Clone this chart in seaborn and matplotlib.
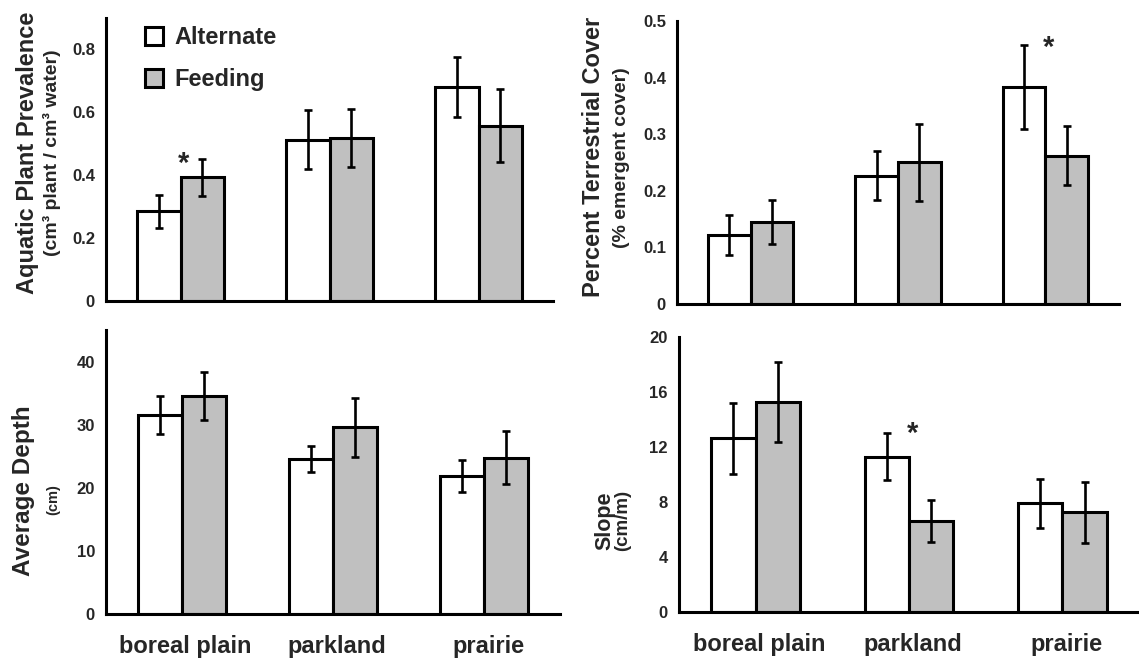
import numpy as np
import pandas as pd
import seaborn as sns
import matplotlib.pyplot as plt
import matplotlib.transforms as mtransforms
from matplotlib.ticker import FixedLocator

sns.set_style("white")
plt.rcParams['font.family'] = ['Liberation Sans', 'DejaVu Sans']
plt.rcParams['font.weight'] = 'bold'

sites = ["boreal plain", "parkland", "prairie"]
groups = ["Alternate", "Feeding"]

plant_alt = [0.285, 0.513, 0.681]
plant_alt_se = [0.052, 0.094, 0.095]
plant_feed = [0.393, 0.519, 0.558]
plant_feed_se = [0.060, 0.093, 0.117]

cover_alt = [0.122, 0.227, 0.384]
cover_alt_se = [0.036, 0.044, 0.074]
cover_feed = [0.145, 0.250, 0.262]
cover_feed_se = [0.039, 0.068, 0.052]

depth_alt = [31.5, 24.5, 21.9]
depth_alt_se = [3.0, 2.05, 2.5]
depth_feed = [34.6, 29.6, 24.75]
depth_feed_se = [3.8, 4.7, 4.2]

slope_alt = [12.6, 11.27, 7.88]
slope_alt_se = [2.6, 1.7, 1.8]
slope_feed = [15.25, 6.6, 7.23]
slope_feed_se = [2.9, 1.5, 2.2]

plant_ticks = [0, 0.2, 0.4, 0.6, 0.8]
plant_ticklabels = ["0", "0.2", "0.4", "0.6", "0.8"]
cover_ticks = [0, 0.1, 0.2, 0.3, 0.4, 0.5]
cover_ticklabels = ["0", "0.1", "0.2", "0.3", "0.4", "0.5"]
depth_ticks = [0, 10, 20, 30, 40]
depth_ticklabels = ["0", "10", "20", "30", "40"]
slope_ticks = [0, 4, 8, 12, 16, 20]
slope_ticklabels = ["0", "4", "8", "12", "16", "20"]

# significance markers: (site index, y value)
plant_star = (0, 0.435)
cover_star = (2, 0.452)
slope_star = (1, 12.9)

W, H = 1139, 662
fig = plt.figure(figsize=(W / 100, H / 100), dpi=100)


def axes_px(left, right, top, bottom):
    return fig.add_axes([left / W, 1 - bottom / H, (right - left) / W, (bottom - top) / H])


def panel(ax, alt, feed, alt_se, feed_se, ymax, ticks, ticklabels, star, xlabels):
    df = pd.DataFrame({
        "site": sites + sites,
        "group": [groups[0]] * 3 + [groups[1]] * 3,
        "value": alt + feed,
    })
    sns.barplot(data=df, x="site", y="value", hue="group", order=sites, hue_order=groups,
                palette={"Alternate": "white", "Feeding": "#c0c0c0"}, width=0.58, gap=0,
                edgecolor="black", linewidth=2.2, errorbar=None, legend=False, ax=ax,
                saturation=1)
    for cont, se in zip(ax.containers, [alt_se, feed_se]):
        xs = [b.get_x() + b.get_width() / 2 for b in cont.patches]
        ys = [b.get_height() for b in cont.patches]
        ax.errorbar(xs, ys, yerr=se, fmt='none', ecolor='black', elinewidth=1.9,
                    capsize=3.2, capthick=1.9, zorder=5)
    ax.set_xlim(-0.5, 2.5)
    ax.set_ylim(0, ymax)
    ax.set_yticks(ticks)
    ax.set_yticklabels(ticklabels, fontsize=12, fontweight='bold')
    ax.xaxis.set_minor_locator(FixedLocator([0.5, 1.5, 2.5]))
    ax.tick_params(axis='x', which='major', length=0, pad=15)
    ax.tick_params(axis='x', which='minor', length=4, width=1.8, direction='out', color='black')
    ax.tick_params(axis='y', length=5, width=1.8, direction='out', color='black', pad=3)
    if xlabels:
        ax.set_xticks(range(3))
        ax.set_xticklabels(sites, fontsize=17, fontweight='bold')
        shift = mtransforms.ScaledTranslation(4 / 100, 0, fig.dpi_scale_trans)
        for lab in ax.get_xticklabels():
            lab.set_transform(lab.get_transform() + shift)
    else:
        ax.set_xticklabels([])
    ax.set_xlabel("")
    ax.set_ylabel("")
    for s in ["top", "right"]:
        ax.spines[s].set_visible(False)
    for s in ["left", "bottom"]:
        ax.spines[s].set_linewidth(2.2)
        ax.spines[s].set_color("black")
    if star is not None:
        i, yv = star
        ax.text(i + 0.02, yv, "*", fontsize=21, fontweight='bold', ha='center', va='center')


ax1 = axes_px(106, 553, 18, 301)
panel(ax1, plant_alt, plant_feed, plant_alt_se, plant_feed_se, 0.9,
      plant_ticks, plant_ticklabels, plant_star, False)
ax2 = axes_px(677, 1119, 21, 304)
panel(ax2, cover_alt, cover_feed, cover_alt_se, cover_feed_se, 0.5,
      cover_ticks, cover_ticklabels, cover_star, False)
ax3 = axes_px(106, 560, 330, 614)
panel(ax3, depth_alt, depth_feed, depth_alt_se, depth_feed_se, 45,
      depth_ticks, depth_ticklabels, None, True)
ax4 = axes_px(679, 1139, 336.7, 611.7)
panel(ax4, slope_alt, slope_feed, slope_alt_se, slope_feed_se, 20,
      slope_ticks, slope_ticklabels, slope_star, True)

leg = ax1.legend(handles=[ax1.containers[0], ax1.containers[1]], labels=groups,
                 loc='upper left', bbox_to_anchor=(145 / W, 1 - 26 / H),
                 bbox_transform=fig.transFigure, frameon=False,
                 prop={'size': 17, 'weight': 'bold'}, handlelength=0.75, handleheight=0.8,
                 handletextpad=0.5, labelspacing=0.8, borderpad=0, borderaxespad=0)


def ytext(x, y, s, size):
    fig.text(x / W, 1 - y / H, s, rotation=90, ha='center', va='center',
             fontsize=size, fontweight='bold')


ytext(28, 153, "Aquatic Plant Prevalence", 17)
ytext(52, 153, "(cm³ plant / cm³ water)", 14)
ytext(594, 157, "Percent Terrestrial Cover", 17)
ytext(622, 158, "(% emergent cover)", 14)
ytext(24, 491, "Average Depth", 17.5)
ytext(53, 500, "(cm)", 10.5)
ytext(605, 521, "Slope", 15.5)
ytext(623, 520, "(cm/m)", 13.5)

fig.savefig("out.png", dpi=100)
